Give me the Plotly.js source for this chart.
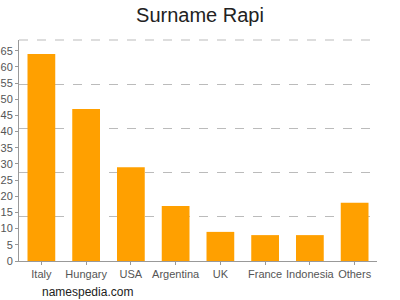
<!DOCTYPE html>
<html>
<head>
<meta charset="utf-8">
<script src="https://cdn.plot.ly/plotly-3.0.1.min.js"></script>
<style>html,body{margin:0;padding:0;background:#fff;}#chart{width:400px;height:300px;}</style>
</head>
<body>
<div id="chart"></div>
<script>
const countries = ["Italy", "Hungary", "USA", "Argentina", "UK", "France", "Indonesia", "Others"];
const counts = [64, 47, 29, 17, 9, 8, 8, 18];
const yTickValues = [0, 5, 10, 15, 20, 25, 30, 35, 40, 45, 50, 55, 60, 65];

const yTop = 68.3;
const font = "'Liberation Sans', Arial, sans-serif";

const trace = {
  type: "bar",
  x: countries,
  y: counts,
  marker: { color: "#ffa000" },
  hoverinfo: "x+y"
};

const layout = {
  width: 400,
  height: 300,
  margin: { l: 19, r: 23, t: 40, b: 39 },
  paper_bgcolor: "#fff",
  plot_bgcolor: "#fff",
  bargap: 0.38,
  showlegend: false,
  font: { family: font, size: 11, color: "#555" },
  title: {
    text: "Surname Rapi",
    font: { family: font, size: 20, color: "#222" },
    x: 0.5, xanchor: "center",
    y: 0.95, yref: "container", yanchor: "middle"
  },
  xaxis: {
    type: "category",
    showgrid: false,
    showline: true,
    linecolor: "#999",
    linewidth: 1,
    ticks: "outside",
    ticklen: 3,
    tickcolor: "#999",
    tickfont: { family: font, size: 11, color: "#555" },
    fixedrange: true
  },
  yaxis: {
    range: [0, yTop],
    tickvals: yTickValues,
    ticktext: yTickValues.map(String),
    showgrid: false,
    zeroline: false,
    showline: true,
    linecolor: "#999",
    linewidth: 1,
    ticks: "outside",
    ticklen: 3,
    tickcolor: "#999",
    tickfont: { family: font, size: 11, color: "#555" },
    fixedrange: true
  },
  yaxis2: {
    overlaying: "y",
    side: "right",
    range: [0, yTop],
    tick0: 0,
    dtick: yTop / 5,
    showticklabels: false,
    ticks: "",
    showline: false,
    zeroline: false,
    showgrid: true,
    gridcolor: "#bbb",
    griddash: "dash",
    gridwidth: 1,
    fixedrange: true
  },
  shapes: [{
    type: "line", xref: "paper", yref: "paper",
    x0: 0, x1: 1, y0: 1, y1: 1,
    line: { color: "#bbb", width: 1, dash: "dash" },
    layer: "below"
  }],
  annotations: [{
    text: "namespedia.com",
    xref: "paper", yref: "paper",
    x: (40 - 19) / 358, xanchor: "left",
    y: (261 - 292) / 221, yanchor: "middle",
    showarrow: false,
    font: { family: font, size: 12, color: "#222" }
  }]
};

const gridTrace = { type: "scatter", x: [countries[0]], y: [0], yaxis: "y2", mode: "markers", marker: { opacity: 0 }, hoverinfo: "skip" };

Plotly.newPlot("chart", [gridTrace, trace], layout, { displayModeBar: false, staticPlot: true });
</script>
</body>
</html>
